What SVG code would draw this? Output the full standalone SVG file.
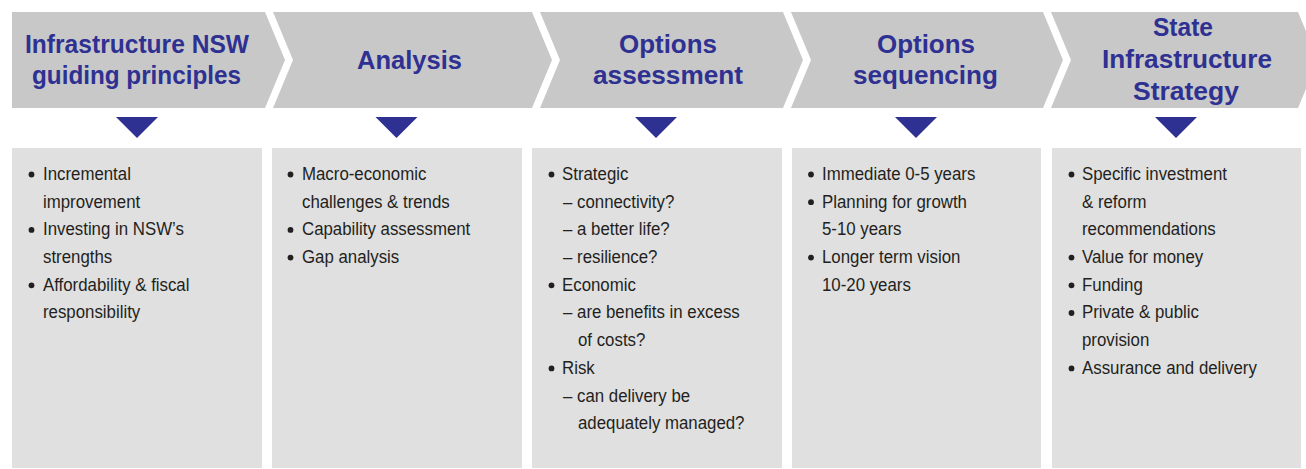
<svg xmlns="http://www.w3.org/2000/svg" width="1306" height="469" viewBox="0 0 1306 469">
<style>
.chev{fill:#c8c8c8}
.box{fill:#e0e0e0}
.tri{fill:#2e3192}
.h{font-family:"Liberation Sans",Arial,sans-serif;font-weight:bold;font-size:25px;fill:#2e3192;text-anchor:middle}
.t{font-family:"Liberation Sans",Arial,sans-serif;font-size:18.5px;fill:#231f20}
.b{fill:#231f20}
</style>
<rect width="1306" height="469" fill="#ffffff"/>
<g id="node-guiding">
<path class="chev" d="M12,12 H265 L285,60 L265,108 H12 Z"/>
<text class="h" x="137" y="52.5" textLength="224" lengthAdjust="spacingAndGlyphs">Infrastructure NSW</text>
<text class="h" x="136.5" y="84" textLength="209" lengthAdjust="spacingAndGlyphs">guiding principles</text>
<path class="tri" d="M116,117 H158 L137,138 Z"/>
<rect class="box" x="12" y="148" width="250" height="320"/>
<circle class="b" cx="31.5" cy="174.5" r="2.9"/>
<circle class="b" cx="31.5" cy="229.9" r="2.9"/>
<circle class="b" cx="31.5" cy="285.3" r="2.9"/>
<g transform="translate(43,0) scale(0.91,1)">
<text class="t" x="0" y="180">Incremental</text>
<text class="t" x="0" y="207.7">improvement</text>
<text class="t" x="0" y="235.4">Investing in NSW’s</text>
<text class="t" x="0" y="263.1">strengths</text>
<text class="t" x="0" y="290.8">Affordability &amp; fiscal</text>
<text class="t" x="0" y="318.5">responsibility</text>
</g>
</g>
<g id="node-analysis">
<path class="chev" d="M273,12 H532 L552,60 L532,108 H273 L293,60 Z"/>
<text class="h" x="409.5" y="68.5" textLength="105" lengthAdjust="spacingAndGlyphs">Analysis</text>
<path class="tri" d="M375.5,117 H417.5 L396.5,138 Z"/>
<rect class="box" x="272" y="148" width="250" height="320"/>
<circle class="b" cx="290.5" cy="174.5" r="2.9"/>
<circle class="b" cx="290.5" cy="229.9" r="2.9"/>
<circle class="b" cx="290.5" cy="257.6" r="2.9"/>
<g transform="translate(302,0) scale(0.91,1)">
<text class="t" x="0" y="180">Macro-economic</text>
<text class="t" x="0" y="207.7">challenges &amp; trends</text>
<text class="t" x="0" y="235.4">Capability assessment</text>
<text class="t" x="0" y="263.1">Gap analysis</text>
</g>
</g>
<g id="node-assessment">
<path class="chev" d="M540,12 H783 L803,60 L783,108 H540 L560,60 Z"/>
<text class="h" x="668" y="52.5" textLength="98" lengthAdjust="spacingAndGlyphs">Options</text>
<text class="h" x="668" y="84" textLength="150" lengthAdjust="spacingAndGlyphs">assessment</text>
<path class="tri" d="M635,117 H677 L656,138 Z"/>
<rect class="box" x="532" y="148" width="250" height="320"/>
<circle class="b" cx="551.5" cy="174.5" r="2.9"/>
<circle class="b" cx="551.5" cy="285.3" r="2.9"/>
<circle class="b" cx="551.5" cy="368.4" r="2.9"/>
<g transform="translate(562,0) scale(0.91,1)">
<text class="t" x="0" y="180">Strategic</text>
<text class="t" x="1.1" y="207.7">– connectivity?</text>
<text class="t" x="1.1" y="235.4">– a better life?</text>
<text class="t" x="1.1" y="263.1">– resilience?</text>
<text class="t" x="0" y="290.8">Economic</text>
<text class="t" x="1.1" y="318.5">– are benefits in excess</text>
<text class="t" x="17.6" y="346.2">of costs?</text>
<text class="t" x="0" y="373.9">Risk</text>
<text class="t" x="1.1" y="401.6">– can delivery be</text>
<text class="t" x="17.6" y="429.3">adequately managed?</text>
</g>
</g>
<g id="node-sequencing">
<path class="chev" d="M791,12 H1043 L1063,60 L1043,108 H791 L811,60 Z"/>
<text class="h" x="926" y="52.5" textLength="98" lengthAdjust="spacingAndGlyphs">Options</text>
<text class="h" x="925.5" y="84" textLength="145" lengthAdjust="spacingAndGlyphs">sequencing</text>
<path class="tri" d="M895,117 H937 L916,138 Z"/>
<rect class="box" x="792" y="148" width="249" height="320"/>
<circle class="b" cx="811" cy="174.5" r="2.9"/>
<circle class="b" cx="811" cy="202.2" r="2.9"/>
<circle class="b" cx="811" cy="257.6" r="2.9"/>
<g transform="translate(822,0) scale(0.91,1)">
<text class="t" x="0" y="180">Immediate 0-5 years</text>
<text class="t" x="0" y="207.7">Planning for growth</text>
<text class="t" x="0" y="235.4">5-10 years</text>
<text class="t" x="0" y="263.1">Longer term vision</text>
<text class="t" x="0" y="290.8">10-20 years</text>
</g>
</g>
<g id="node-strategy">
<path class="chev" d="M1051,12 H1298 L1318,60 L1298,108 H1051 L1071,60 Z"/>
<text class="h" x="1183" y="36" textLength="60" lengthAdjust="spacingAndGlyphs">State</text>
<text class="h" x="1187" y="68" textLength="170" lengthAdjust="spacingAndGlyphs">Infrastructure</text>
<text class="h" x="1186" y="100" textLength="106" lengthAdjust="spacingAndGlyphs">Strategy</text>
<path class="tri" d="M1155,117 H1197 L1176,138 Z"/>
<rect class="box" x="1052" y="148" width="249" height="320"/>
<circle class="b" cx="1071.5" cy="174.5" r="2.9"/>
<circle class="b" cx="1071.5" cy="257.6" r="2.9"/>
<circle class="b" cx="1071.5" cy="285.3" r="2.9"/>
<circle class="b" cx="1071.5" cy="313" r="2.9"/>
<circle class="b" cx="1071.5" cy="368.4" r="2.9"/>
<g transform="translate(1082,0) scale(0.91,1)">
<text class="t" x="0" y="180">Specific investment</text>
<text class="t" x="0" y="207.7">&amp; reform</text>
<text class="t" x="0" y="235.4">recommendations</text>
<text class="t" x="0" y="263.1">Value for money</text>
<text class="t" x="0" y="290.8">Funding</text>
<text class="t" x="0" y="318.5">Private &amp; public</text>
<text class="t" x="0" y="346.2">provision</text>
<text class="t" x="0" y="373.9">Assurance and delivery</text>
</g>
</g>
<g id="connectors"></g>
</svg>
